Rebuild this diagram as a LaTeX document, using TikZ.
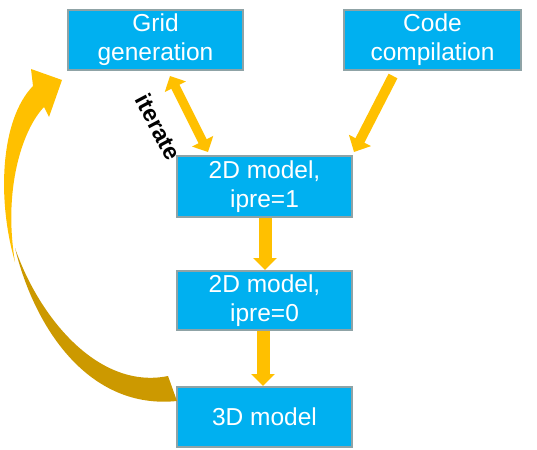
\documentclass[tikz,border=0pt]{standalone}
\usepackage{fontspec}
\setmainfont{Liberation Sans}
\usetikzlibrary{arrows.meta}
\definecolor{boxfill}{HTML}{00B0F0}
\definecolor{boxline}{HTML}{8FA3A6}
\definecolor{arrowyellow}{HTML}{FFC000}
\definecolor{arrowdark}{HTML}{CC9900}
\begin{document}
\begin{tikzpicture}[x=1pt,y=-1pt,
  stepbox/.style={draw=boxline, line width=2pt, fill=boxfill, text=white,
    minimum width=175pt, minimum height=60pt, inner sep=0pt, align=center,
    font=\fontsize{24.5}{29}\selectfont},
  flowarrow/.style={draw=arrowyellow, line width=13pt, -{Triangle[length=12pt,width=23pt]}},
  slantarrow/.style={draw=arrowyellow, line width=9pt},
]
\useasboundingbox (0,0) rectangle (537,449);
\node[stepbox] (grid) at (155.5,40) {Grid\\generation};
\node[stepbox, minimum width=177pt] (code) at (432.5,40) {Code\\compilation};
\node[stepbox, minimum height=61pt] (m1) at (264.5,186.5) {2D model,\\ipre=1};
\node[stepbox, minimum height=59pt] (m0) at (264.5,300.5) {2D model,\\ipre=0};
\node[stepbox] (m3) at (264.5,417) {3D model};
% straight arrows
\draw[flowarrow] ([xshift=0.5pt]m1.south) -- ([xshift=0.5pt]m0.north);
\draw[flowarrow] ([xshift=-1.5pt]m0.south) -- ([xshift=-1.5pt]m3.north);
\draw[slantarrow, {Triangle[length=12pt,width=23pt]}-{Triangle[length=12pt,width=23pt]}]
  ([xshift=14.5pt,yshift=-5pt]grid.south) -- ([xshift=-56.5pt,yshift=3pt]m1.north);
\draw[slantarrow, line width=10pt, -{Triangle[length=13pt,width=24pt]}]
  ([xshift=-39.5pt,yshift=-5pt]code.south) -- ([xshift=1pt,yshift=3pt]m1.north east);
% iterate label
\node[rotate=-62, inner sep=0pt, font=\bfseries\fontsize{23.5}{26}\selectfont] (iter) at (158.5,127) {iterate};
% curved arrow back from 3D model to grid generation
\fill[arrowdark] (15,248) .. controls (35,330) and (90,410) .. (177,401)
  -- (168,376) .. controls (100,390) and (40,320) .. (15,248) -- cycle;
\fill[arrowyellow] (15,262) .. controls (-3,200) and (0,120) .. (33,86)
  -- (31,69) -- (62,80) -- (49,117) -- (44,107)
  .. controls (22,130) and (3,190) .. (15,262) -- cycle;
\end{tikzpicture}
\end{document}
